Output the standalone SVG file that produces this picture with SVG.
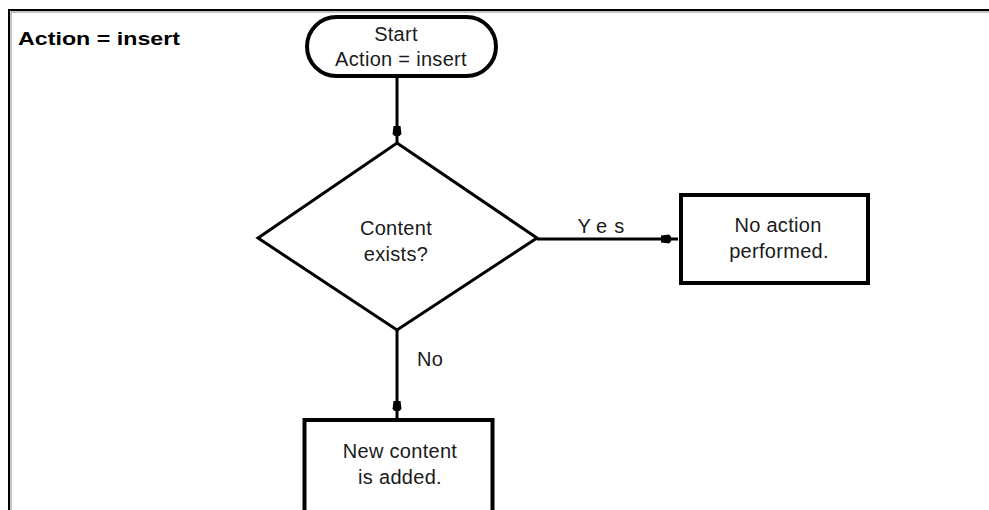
<svg xmlns="http://www.w3.org/2000/svg" width="989" height="510" viewBox="0 0 989 510">
<style>
.t{font-family:"Liberation Sans",Arial,sans-serif;font-size:20px;letter-spacing:0.3px;fill:#1a1a1a;text-anchor:middle}
.shape{fill:#fff;stroke:#000}
.conn{stroke:#000;stroke-width:3;fill:none}
</style>
<defs>
<marker id="blob" markerUnits="userSpaceOnUse" viewBox="-20 -6 20 12" refX="0" refY="0" markerWidth="20" markerHeight="12" orient="auto">
<path d="M-17,-3.5 L-9,-4.5 L-7,-2.5 L-7,2.5 L-9,4.5 L-17,3.5 Z" fill="#000"/>
</marker>
</defs>
<rect x="0" y="0" width="989" height="510" fill="#fff"/>
<g id="frame">
<path d="M9,510 V10 H989" fill="none" stroke="#000" stroke-width="2"/>
<path d="M11,510 V12 H989" fill="none" stroke="#888" stroke-width="1"/>
</g>
<g id="title">
<text x="18" y="45" font-family="Liberation Sans,Arial,sans-serif" font-weight="bold" font-size="18" textLength="162" lengthAdjust="spacingAndGlyphs" fill="#000">Action = insert</text>
</g>
<g id="connectors">
<line class="conn" x1="397" y1="78" x2="397" y2="143" marker-end="url(#blob)"/>
<line class="conn" x1="537" y1="239" x2="678" y2="239" marker-end="url(#blob)"/>
<line class="conn" x1="397" y1="330" x2="397" y2="418" marker-end="url(#blob)"/>
<text class="t" x="601" y="233" textLength="47" lengthAdjust="spacing">Yes</text>
<text class="t" x="430" y="366">No</text>
</g>
<g id="start">
<rect class="shape" x="307" y="17" width="189" height="59" rx="29.5" ry="29.5" stroke-width="4"/>
<text class="t" x="396" y="41">Start</text>
<text class="t" x="401" y="66">Action = insert</text>
</g>
<g id="decision">
<polygon class="shape" points="397,143 537,238 397,330 258,238" stroke-width="3"/>
<text class="t" x="396" y="235">Content</text>
<text class="t" x="396" y="261">exists?</text>
</g>
<g id="noaction">
<rect class="shape" x="681" y="195" width="187" height="88" stroke-width="4"/>
<text class="t" x="778" y="232">No action</text>
<text class="t" x="779" y="258">performed.</text>
</g>
<g id="newcontent">
<rect class="shape" x="304.5" y="420" width="188" height="100" stroke-width="4"/>
<text class="t" x="400" y="458">New content</text>
<text class="t" x="400" y="484">is added.</text>
</g>
</svg>
